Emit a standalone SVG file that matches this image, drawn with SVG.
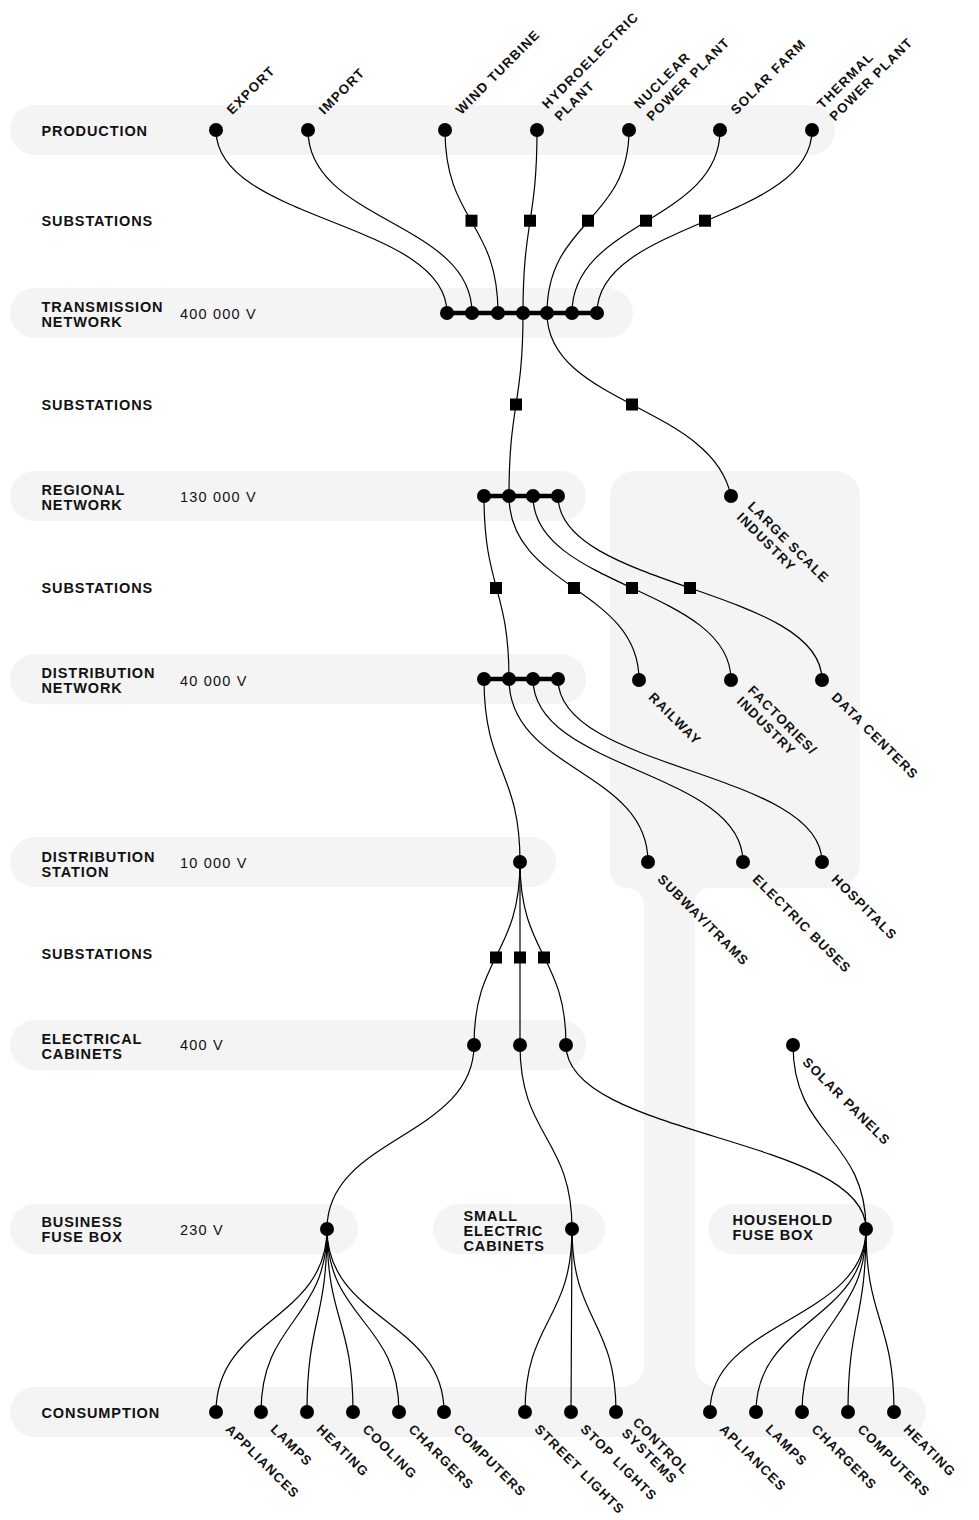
<svg xmlns="http://www.w3.org/2000/svg" width="979" height="1520" viewBox="0 0 979 1520">
<style>
.band{fill:#f4f4f4}
.lbl{font-family:"Liberation Sans",Arial,sans-serif;font-weight:700;font-size:14.5px;letter-spacing:0.9px;fill:#111}
.volt{font-family:"Liberation Sans",Arial,sans-serif;font-size:14.5px;letter-spacing:1.2px;fill:#111}
.rl{font-family:"Liberation Sans",Arial,sans-serif;font-weight:700;font-size:13.3px;letter-spacing:1.2px;fill:#111}
.wire{fill:none;stroke:#000;stroke-width:1.2}
.bus{fill:none;stroke:#000;stroke-width:4.5}
.dot{fill:#000}
.sq{fill:#000}
</style>
<defs>
<circle id="d" r="7" class="dot"/>
<rect id="s" x="-6" y="-6" width="12" height="12" class="sq"/>
</defs>

<g id="backgrounds">
<rect class="band" x="10" y="105" width="825" height="50" rx="25"/>
<rect class="band" x="10" y="288" width="623" height="50" rx="25"/>
<rect class="band" x="10" y="471" width="576" height="50" rx="25"/>
<rect class="band" x="10" y="654" width="576" height="50" rx="25"/>
<rect class="band" x="10" y="837" width="546" height="50" rx="25"/>
<rect class="band" x="10" y="1020" width="576" height="50" rx="25"/>
<rect class="band" x="10" y="1204" width="348" height="50" rx="25"/>
<rect class="band" x="433" y="1204" width="172" height="50" rx="25"/>
<rect class="band" x="708" y="1204" width="185" height="50" rx="25"/>
<rect class="band" x="10" y="1387" width="916" height="50" rx="25"/>
<path class="band" d="M635 471 H835 A25 25 0 0 1 860 496 V863 A25 25 0 0 1 835 888 H710 A15 15 0 0 0 695 903 V1365 A22 22 0 0 0 717 1387 H622 A22 22 0 0 0 644 1365 V905 A17 17 0 0 0 627 888 A17 17 0 0 1 610 871 V496 A25 25 0 0 1 635 471 Z"/>
</g>

<g id="row-labels">
<g id="lbl-production"><text class="lbl" x="41.5" y="135.5">PRODUCTION</text></g>
<g id="lbl-sub1"><text class="lbl" x="41.5" y="226">SUBSTATIONS</text></g>
<g id="lbl-transmission"><text class="lbl" x="41.5" y="312.3">TRANSMISSION</text><text class="lbl" x="41.5" y="327">NETWORK</text><text class="volt" x="180" y="318.5">400 000 V</text></g>
<g id="lbl-sub2"><text class="lbl" x="41.5" y="410">SUBSTATIONS</text></g>
<g id="lbl-regional"><text class="lbl" x="41.5" y="494.5">REGIONAL</text><text class="lbl" x="41.5" y="509.5">NETWORK</text><text class="volt" x="180" y="502">130 000 V</text></g>
<g id="lbl-sub3"><text class="lbl" x="41.5" y="593.3">SUBSTATIONS</text></g>
<g id="lbl-distribution"><text class="lbl" x="41.5" y="678">DISTRIBUTION</text><text class="lbl" x="41.5" y="693">NETWORK</text><text class="volt" x="180" y="685.5">40 000 V</text></g>
<g id="lbl-station"><text class="lbl" x="41.5" y="861.5">DISTRIBUTION</text><text class="lbl" x="41.5" y="876.5">STATION</text><text class="volt" x="180" y="867.5">10 000 V</text></g>
<g id="lbl-sub4"><text class="lbl" x="41.5" y="959.3">SUBSTATIONS</text></g>
<g id="lbl-cabinets"><text class="lbl" x="41.5" y="1043.5">ELECTRICAL</text><text class="lbl" x="41.5" y="1058.5">CABINETS</text><text class="volt" x="180" y="1050">400 V</text></g>
<g id="lbl-business"><text class="lbl" x="41.5" y="1227">BUSINESS</text><text class="lbl" x="41.5" y="1242.3">FUSE BOX</text><text class="volt" x="180" y="1235">230 V</text></g>
<g id="lbl-small"><text class="lbl" x="463.5" y="1220.7">SMALL</text><text class="lbl" x="463.5" y="1235.7">ELECTRIC</text><text class="lbl" x="463.5" y="1250.5">CABINETS</text></g>
<g id="lbl-household"><text class="lbl" x="732.5" y="1225">HOUSEHOLD</text><text class="lbl" x="732.5" y="1239.5">FUSE BOX</text></g>
<g id="lbl-consumption"><text class="lbl" x="41.5" y="1417.5">CONSUMPTION</text></g>
</g>

<g id="connectors">
<path class="wire" d="M216 130 C216 221.5 447 221.5 447 313"/>
<path class="wire" d="M308 130 C308 221.5 472 221.5 472 313"/>
<path class="wire" d="M445 130 C445 221.5 498 221.5 498 313"/>
<path class="wire" d="M537 130 C537 221.5 523 221.5 523 313"/>
<path class="wire" d="M629 130 C629 221.5 547 221.5 547 313"/>
<path class="wire" d="M720 130 C720 221.5 572 221.5 572 313"/>
<path class="wire" d="M812 130 C812 221.5 597 221.5 597 313"/>
<path class="wire" d="M523 313 C523 404.5 509 404.5 509 496"/>
<path class="wire" d="M547 313 C547 404.5 712 404.5 731 496"/>
<path class="wire" d="M484 496 C484 588 509 588 509 679"/>
<path class="wire" d="M509 496 C509 588 639 588 639 680"/>
<path class="wire" d="M533 496 C533 588 731 588 731 680"/>
<path class="wire" d="M558 496 C558 588 822 588 822 680"/>
<path class="wire" d="M484 679 C484 770.5 520 770.5 520 862"/>
<path class="wire" d="M509 679 C509 770.5 648 770.5 648 862"/>
<path class="wire" d="M533 679 C533 770.5 743 770.5 743 862"/>
<path class="wire" d="M558 679 C558 770.5 822 770.5 822 862"/>
<path class="wire" d="M520 862 C520 955 474 955 474 1045"/>
<path class="wire" d="M520 862 V1045"/>
<path class="wire" d="M520 862 C520 955 566 955 566 1045"/>
<path class="wire" d="M474 1045 C474 1137 327 1137 327 1229"/>
<path class="wire" d="M520 1045 C520 1137 572 1137 572 1229"/>
<path class="wire" d="M566 1045 C566 1137 866 1137 866 1229"/>
<path class="wire" d="M793 1045 C793 1137 866 1137 866 1229"/>
<path class="wire" d="M327 1229 C327 1320.5 216 1320.5 216 1412"/>
<path class="wire" d="M327 1229 C327 1320.5 261 1320.5 261 1412"/>
<path class="wire" d="M327 1229 C327 1320.5 307 1320.5 307 1412"/>
<path class="wire" d="M327 1229 C327 1320.5 353 1320.5 353 1412"/>
<path class="wire" d="M327 1229 C327 1320.5 399 1320.5 399 1412"/>
<path class="wire" d="M327 1229 C327 1320.5 444 1320.5 444 1412"/>
<path class="wire" d="M572 1229 C572 1320.5 525 1320.5 525 1412"/>
<path class="wire" d="M572 1229 C572 1320.5 571 1320.5 571 1412"/>
<path class="wire" d="M572 1229 C572 1320.5 616 1320.5 616 1412"/>
<path class="wire" d="M866 1229 C866 1320.5 710 1320.5 710 1412"/>
<path class="wire" d="M866 1229 C866 1320.5 756 1320.5 756 1412"/>
<path class="wire" d="M866 1229 C866 1320.5 802 1320.5 802 1412"/>
<path class="wire" d="M866 1229 C866 1320.5 848 1320.5 848 1412"/>
<path class="wire" d="M866 1229 C866 1320.5 894 1320.5 894 1412"/>
<path class="bus" d="M447 313 H597"/>
<path class="bus" d="M484 496 H558"/>
<path class="bus" d="M484 679 H558"/>
</g>

<g id="substations">
<g id="sub-wind"><use href="#s" x="471.5" y="220.7"/></g>
<g id="sub-hydro"><use href="#s" x="530" y="220.7"/></g>
<g id="sub-nuclear"><use href="#s" x="588" y="220.7"/></g>
<g id="sub-solar"><use href="#s" x="646" y="220.7"/></g>
<g id="sub-thermal"><use href="#s" x="705" y="220.7"/></g>
<g id="sub-regional"><use href="#s" x="516" y="404.5"/></g>
<g id="sub-industry"><use href="#s" x="632" y="404.5"/></g>
<g id="sub-distribution"><use href="#s" x="496" y="588"/></g>
<g id="sub-railway"><use href="#s" x="574" y="588"/></g>
<g id="sub-factories"><use href="#s" x="632" y="588"/></g>
<g id="sub-datacenters"><use href="#s" x="690" y="588"/></g>
<g id="sub-cab1"><use href="#s" x="496" y="957.5"/></g>
<g id="sub-cab2"><use href="#s" x="520" y="957.5"/></g>
<g id="sub-cab3"><use href="#s" x="544" y="957.5"/></g>
</g>

<g id="production">
<g id="export" transform="translate(216 130)"><use href="#d"/><text class="rl" transform="rotate(-45)" x="22" y="1">EXPORT</text></g>
<g id="import" transform="translate(308 130)"><use href="#d"/><text class="rl" transform="rotate(-45)" x="22" y="1">IMPORT</text></g>
<g id="wind" transform="translate(445 130)"><use href="#d"/><text class="rl" transform="rotate(-45)" x="22" y="1">WIND TURBINE</text></g>
<g id="hydro" transform="translate(537 130)"><use href="#d"/><text class="rl" transform="rotate(-45)" x="22" y="-7">HYDROELECTRIC</text><text class="rl" transform="rotate(-45)" x="22" y="10.5">PLANT</text></g>
<g id="nuclear" transform="translate(629 130)"><use href="#d"/><text class="rl" transform="rotate(-45)" x="22" y="-7">NUCLEAR</text><text class="rl" transform="rotate(-45)" x="22" y="10.5">POWER PLANT</text></g>
<g id="solarfarm" transform="translate(720 130)"><use href="#d"/><text class="rl" transform="rotate(-45)" x="22" y="1">SOLAR FARM</text></g>
<g id="thermal" transform="translate(812 130)"><use href="#d"/><text class="rl" transform="rotate(-45)" x="22" y="-7">THERMAL</text><text class="rl" transform="rotate(-45)" x="22" y="10.5">POWER PLANT</text></g>
</g>

<g id="transmission">
<g id="t1"><use href="#d" x="447" y="313"/></g>
<g id="t2"><use href="#d" x="472" y="313"/></g>
<g id="t3"><use href="#d" x="498" y="313"/></g>
<g id="t4"><use href="#d" x="523" y="313"/></g>
<g id="t5"><use href="#d" x="547" y="313"/></g>
<g id="t6"><use href="#d" x="572" y="313"/></g>
<g id="t7"><use href="#d" x="597" y="313"/></g>
</g>

<g id="regional">
<g id="r1"><use href="#d" x="484" y="496"/></g>
<g id="r2"><use href="#d" x="509" y="496"/></g>
<g id="r3"><use href="#d" x="533" y="496"/></g>
<g id="r4"><use href="#d" x="558" y="496"/></g>
<g id="largescale" transform="translate(731 496)"><use href="#d"/><text class="rl" transform="rotate(45)" x="19" y="-3.5">LARGE SCALE</text><text class="rl" transform="rotate(45)" x="19" y="12">INDUSTRY</text></g>
</g>

<g id="distribution">
<g id="n1"><use href="#d" x="484" y="679"/></g>
<g id="n2"><use href="#d" x="509" y="679"/></g>
<g id="n3"><use href="#d" x="533" y="679"/></g>
<g id="n4"><use href="#d" x="558" y="679"/></g>
<g id="railway" transform="translate(639 680)"><use href="#d"/><text class="rl" transform="rotate(45)" x="19" y="6.5">RAILWAY</text></g>
<g id="factories" transform="translate(731 680)"><use href="#d"/><text class="rl" transform="rotate(45)" x="19" y="-3.5">FACTORIES/</text><text class="rl" transform="rotate(45)" x="19" y="12">INDUSTRY</text></g>
<g id="datacenters" transform="translate(822 680)"><use href="#d"/><text class="rl" transform="rotate(45)" x="19" y="6.5">DATA CENTERS</text></g>
</g>

<g id="station">
<g id="st1"><use href="#d" x="520" y="862"/></g>
<g id="subway" transform="translate(648 862)"><use href="#d"/><text class="rl" transform="rotate(45)" x="19" y="6.5">SUBWAY/TRAMS</text></g>
<g id="buses" transform="translate(743 862)"><use href="#d"/><text class="rl" transform="rotate(45)" x="19" y="6.5">ELECTRIC BUSES</text></g>
<g id="hospitals" transform="translate(822 862)"><use href="#d"/><text class="rl" transform="rotate(45)" x="19" y="6.5">HOSPITALS</text></g>
</g>

<g id="cabinets">
<g id="c1"><use href="#d" x="474" y="1045"/></g>
<g id="c2"><use href="#d" x="520" y="1045"/></g>
<g id="c3"><use href="#d" x="566" y="1045"/></g>
<g id="solarpanels" transform="translate(793 1045)"><use href="#d"/><text class="rl" transform="rotate(45)" x="19" y="6.5">SOLAR PANELS</text></g>
</g>

<g id="fuseboxes">
<g id="f-business"><use href="#d" x="327" y="1229"/></g>
<g id="f-small"><use href="#d" x="572" y="1229"/></g>
<g id="f-household"><use href="#d" x="866" y="1229"/></g>
</g>

<g id="consumption">
<g id="b-appliances" transform="translate(216 1412)"><use href="#d"/><text class="rl" transform="rotate(45)" x="19" y="6.5">APPLIANCES</text></g>
<g id="b-lamps" transform="translate(261 1412)"><use href="#d"/><text class="rl" transform="rotate(45)" x="19" y="6.5">LAMPS</text></g>
<g id="b-heating" transform="translate(307 1412)"><use href="#d"/><text class="rl" transform="rotate(45)" x="19" y="6.5">HEATING</text></g>
<g id="b-cooling" transform="translate(353 1412)"><use href="#d"/><text class="rl" transform="rotate(45)" x="19" y="6.5">COOLING</text></g>
<g id="b-chargers" transform="translate(399 1412)"><use href="#d"/><text class="rl" transform="rotate(45)" x="19" y="6.5">CHARGERS</text></g>
<g id="b-computers" transform="translate(444 1412)"><use href="#d"/><text class="rl" transform="rotate(45)" x="19" y="6.5">COMPUTERS</text></g>
<g id="s-street" transform="translate(525 1412)"><use href="#d"/><text class="rl" transform="rotate(45)" x="19" y="6.5">STREET LIGHTS</text></g>
<g id="s-stop" transform="translate(571 1412)"><use href="#d"/><text class="rl" transform="rotate(45)" x="19" y="6.5">STOP LIGHTS</text></g>
<g id="s-control" transform="translate(616 1412)"><use href="#d"/><text class="rl" transform="rotate(45)" x="19" y="-3.5">CONTROL</text><text class="rl" transform="rotate(45)" x="19" y="12">SYSTEMS</text></g>
<g id="h-apliances" transform="translate(710 1412)"><use href="#d"/><text class="rl" transform="rotate(45)" x="19" y="6.5">APLIANCES</text></g>
<g id="h-lamps" transform="translate(756 1412)"><use href="#d"/><text class="rl" transform="rotate(45)" x="19" y="6.5">LAMPS</text></g>
<g id="h-chargers" transform="translate(802 1412)"><use href="#d"/><text class="rl" transform="rotate(45)" x="19" y="6.5">CHARGERS</text></g>
<g id="h-computers" transform="translate(848 1412)"><use href="#d"/><text class="rl" transform="rotate(45)" x="19" y="6.5">COMPUTERS</text></g>
<g id="h-heating" transform="translate(894 1412)"><use href="#d"/><text class="rl" transform="rotate(45)" x="19" y="6.5">HEATING</text></g>
</g>
</svg>
